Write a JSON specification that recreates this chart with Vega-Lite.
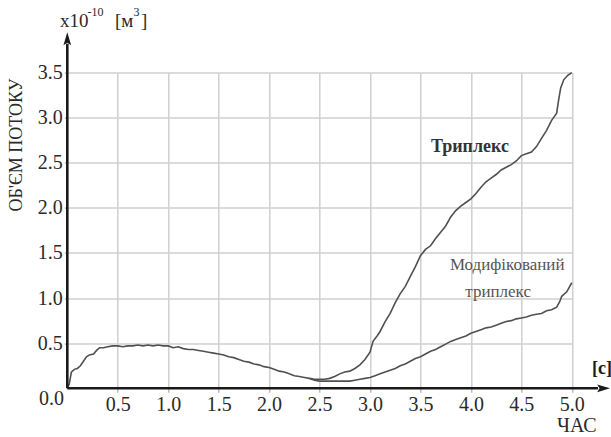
{
  "$schema": "https://vega.github.io/schema/vega-lite/v6.json",
  "width": 504.5,
  "height": 315.7,
  "autosize": {"type": "none"},
  "padding": {"left": 67.3, "top": 72.6, "right": 39, "bottom": 49},
  "background": "white",
  "config": {
    "view": {"stroke": null},
    "font": "Liberation Serif",
    "axis": {
      "labelFont": "Liberation Serif",
      "titleFont": "Liberation Serif",
      "gridColor": "#cfcfcf",
      "gridWidth": 1.5,
      "gridOpacity": 1,
      "domain": false,
      "tickColor": "#aaaaaa",
      "tickWidth": 1.2,
      "labelColor": "#2a2a2a",
      "titleColor": "#2a2a2a",
      "titleFontWeight": "normal"
    }
  },
  "datasets": {
    "curve": [
      {"t": 0.0, "v": 0.0, "s": "common"},
      {"t": 0.02, "v": 0.05, "s": "common"},
      {"t": 0.04, "v": 0.18, "s": "common"},
      {"t": 0.07, "v": 0.21, "s": "common"},
      {"t": 0.1, "v": 0.22, "s": "common"},
      {"t": 0.13, "v": 0.25, "s": "common"},
      {"t": 0.16, "v": 0.3, "s": "common"},
      {"t": 0.19, "v": 0.35, "s": "common"},
      {"t": 0.22, "v": 0.37, "s": "common"},
      {"t": 0.26, "v": 0.38, "s": "common"},
      {"t": 0.29, "v": 0.42, "s": "common"},
      {"t": 0.32, "v": 0.45, "s": "common"},
      {"t": 0.36, "v": 0.45, "s": "common"},
      {"t": 0.4, "v": 0.46, "s": "common"},
      {"t": 0.45, "v": 0.47, "s": "common"},
      {"t": 0.5, "v": 0.47, "s": "common"},
      {"t": 0.55, "v": 0.46, "s": "common"},
      {"t": 0.6, "v": 0.47, "s": "common"},
      {"t": 0.65, "v": 0.47, "s": "common"},
      {"t": 0.7, "v": 0.48, "s": "common"},
      {"t": 0.75, "v": 0.47, "s": "common"},
      {"t": 0.8, "v": 0.48, "s": "common"},
      {"t": 0.85, "v": 0.47, "s": "common"},
      {"t": 0.9, "v": 0.48, "s": "common"},
      {"t": 0.95, "v": 0.47, "s": "common"},
      {"t": 1.0, "v": 0.47, "s": "common"},
      {"t": 1.05, "v": 0.45, "s": "common"},
      {"t": 1.1, "v": 0.46, "s": "common"},
      {"t": 1.15, "v": 0.44, "s": "common"},
      {"t": 1.2, "v": 0.43, "s": "common"},
      {"t": 1.25, "v": 0.43, "s": "common"},
      {"t": 1.3, "v": 0.42, "s": "common"},
      {"t": 1.35, "v": 0.41, "s": "common"},
      {"t": 1.4, "v": 0.4, "s": "common"},
      {"t": 1.45, "v": 0.39, "s": "common"},
      {"t": 1.5, "v": 0.38, "s": "common"},
      {"t": 1.55, "v": 0.37, "s": "common"},
      {"t": 1.6, "v": 0.35, "s": "common"},
      {"t": 1.65, "v": 0.34, "s": "common"},
      {"t": 1.7, "v": 0.32, "s": "common"},
      {"t": 1.75, "v": 0.3, "s": "common"},
      {"t": 1.8, "v": 0.29, "s": "common"},
      {"t": 1.85, "v": 0.27, "s": "common"},
      {"t": 1.9, "v": 0.26, "s": "common"},
      {"t": 1.95, "v": 0.24, "s": "common"},
      {"t": 2.0, "v": 0.23, "s": "common"},
      {"t": 2.05, "v": 0.21, "s": "common"},
      {"t": 2.1, "v": 0.19, "s": "common"},
      {"t": 2.15, "v": 0.18, "s": "common"},
      {"t": 2.2, "v": 0.16, "s": "common"},
      {"t": 2.25, "v": 0.14, "s": "common"},
      {"t": 2.3, "v": 0.13, "s": "common"},
      {"t": 2.35, "v": 0.12, "s": "common"},
      {"t": 2.4, "v": 0.11, "s": "common"},
      {"t": 2.4, "v": 0.11, "s": "triplex"},
      {"t": 2.45, "v": 0.1, "s": "triplex"},
      {"t": 2.5, "v": 0.1, "s": "triplex"},
      {"t": 2.55, "v": 0.1, "s": "triplex"},
      {"t": 2.6, "v": 0.11, "s": "triplex"},
      {"t": 2.65, "v": 0.13, "s": "triplex"},
      {"t": 2.7, "v": 0.16, "s": "triplex"},
      {"t": 2.75, "v": 0.18, "s": "triplex"},
      {"t": 2.8, "v": 0.19, "s": "triplex"},
      {"t": 2.85, "v": 0.22, "s": "triplex"},
      {"t": 2.9, "v": 0.26, "s": "triplex"},
      {"t": 2.95, "v": 0.32, "s": "triplex"},
      {"t": 3.0, "v": 0.4, "s": "triplex"},
      {"t": 3.03, "v": 0.52, "s": "triplex"},
      {"t": 3.07, "v": 0.58, "s": "triplex"},
      {"t": 3.1, "v": 0.63, "s": "triplex"},
      {"t": 3.15, "v": 0.74, "s": "triplex"},
      {"t": 3.2, "v": 0.83, "s": "triplex"},
      {"t": 3.25, "v": 0.95, "s": "triplex"},
      {"t": 3.3, "v": 1.05, "s": "triplex"},
      {"t": 3.35, "v": 1.13, "s": "triplex"},
      {"t": 3.4, "v": 1.24, "s": "triplex"},
      {"t": 3.45, "v": 1.35, "s": "triplex"},
      {"t": 3.5, "v": 1.47, "s": "triplex"},
      {"t": 3.55, "v": 1.54, "s": "triplex"},
      {"t": 3.6, "v": 1.58, "s": "triplex"},
      {"t": 3.65, "v": 1.66, "s": "triplex"},
      {"t": 3.7, "v": 1.73, "s": "triplex"},
      {"t": 3.75, "v": 1.8, "s": "triplex"},
      {"t": 3.8, "v": 1.9, "s": "triplex"},
      {"t": 3.85, "v": 1.97, "s": "triplex"},
      {"t": 3.9, "v": 2.02, "s": "triplex"},
      {"t": 3.95, "v": 2.06, "s": "triplex"},
      {"t": 4.0, "v": 2.1, "s": "triplex"},
      {"t": 4.05, "v": 2.16, "s": "triplex"},
      {"t": 4.1, "v": 2.23, "s": "triplex"},
      {"t": 4.15, "v": 2.29, "s": "triplex"},
      {"t": 4.2, "v": 2.33, "s": "triplex"},
      {"t": 4.25, "v": 2.37, "s": "triplex"},
      {"t": 4.3, "v": 2.42, "s": "triplex"},
      {"t": 4.35, "v": 2.45, "s": "triplex"},
      {"t": 4.4, "v": 2.48, "s": "triplex"},
      {"t": 4.45, "v": 2.52, "s": "triplex"},
      {"t": 4.5, "v": 2.58, "s": "triplex"},
      {"t": 4.55, "v": 2.6, "s": "triplex"},
      {"t": 4.6, "v": 2.62, "s": "triplex"},
      {"t": 4.65, "v": 2.68, "s": "triplex"},
      {"t": 4.7, "v": 2.77, "s": "triplex"},
      {"t": 4.75, "v": 2.86, "s": "triplex"},
      {"t": 4.8, "v": 2.97, "s": "triplex"},
      {"t": 4.85, "v": 3.05, "s": "triplex"},
      {"t": 4.87, "v": 3.2, "s": "triplex"},
      {"t": 4.89, "v": 3.33, "s": "triplex"},
      {"t": 4.92, "v": 3.42, "s": "triplex"},
      {"t": 4.96, "v": 3.47, "s": "triplex"},
      {"t": 5.0, "v": 3.5, "s": "triplex"},
      {"t": 2.4, "v": 0.11, "s": "modified"},
      {"t": 2.45, "v": 0.09, "s": "modified"},
      {"t": 2.5, "v": 0.08, "s": "modified"},
      {"t": 2.6, "v": 0.08, "s": "modified"},
      {"t": 2.7, "v": 0.08, "s": "modified"},
      {"t": 2.8, "v": 0.08, "s": "modified"},
      {"t": 2.85, "v": 0.09, "s": "modified"},
      {"t": 2.9, "v": 0.1, "s": "modified"},
      {"t": 2.95, "v": 0.11, "s": "modified"},
      {"t": 3.0, "v": 0.12, "s": "modified"},
      {"t": 3.05, "v": 0.14, "s": "modified"},
      {"t": 3.1, "v": 0.16, "s": "modified"},
      {"t": 3.15, "v": 0.18, "s": "modified"},
      {"t": 3.2, "v": 0.2, "s": "modified"},
      {"t": 3.25, "v": 0.22, "s": "modified"},
      {"t": 3.3, "v": 0.25, "s": "modified"},
      {"t": 3.35, "v": 0.27, "s": "modified"},
      {"t": 3.4, "v": 0.3, "s": "modified"},
      {"t": 3.45, "v": 0.33, "s": "modified"},
      {"t": 3.5, "v": 0.35, "s": "modified"},
      {"t": 3.55, "v": 0.38, "s": "modified"},
      {"t": 3.6, "v": 0.41, "s": "modified"},
      {"t": 3.65, "v": 0.43, "s": "modified"},
      {"t": 3.7, "v": 0.46, "s": "modified"},
      {"t": 3.75, "v": 0.49, "s": "modified"},
      {"t": 3.8, "v": 0.52, "s": "modified"},
      {"t": 3.85, "v": 0.54, "s": "modified"},
      {"t": 3.9, "v": 0.56, "s": "modified"},
      {"t": 3.95, "v": 0.58, "s": "modified"},
      {"t": 4.0, "v": 0.61, "s": "modified"},
      {"t": 4.05, "v": 0.63, "s": "modified"},
      {"t": 4.1, "v": 0.65, "s": "modified"},
      {"t": 4.15, "v": 0.67, "s": "modified"},
      {"t": 4.2, "v": 0.68, "s": "modified"},
      {"t": 4.25, "v": 0.7, "s": "modified"},
      {"t": 4.3, "v": 0.72, "s": "modified"},
      {"t": 4.35, "v": 0.74, "s": "modified"},
      {"t": 4.4, "v": 0.75, "s": "modified"},
      {"t": 4.45, "v": 0.77, "s": "modified"},
      {"t": 4.5, "v": 0.78, "s": "modified"},
      {"t": 4.55, "v": 0.79, "s": "modified"},
      {"t": 4.6, "v": 0.81, "s": "modified"},
      {"t": 4.65, "v": 0.82, "s": "modified"},
      {"t": 4.7, "v": 0.83, "s": "modified"},
      {"t": 4.75, "v": 0.86, "s": "modified"},
      {"t": 4.8, "v": 0.87, "s": "modified"},
      {"t": 4.85, "v": 0.9, "s": "modified"},
      {"t": 4.88, "v": 0.96, "s": "modified"},
      {"t": 4.9, "v": 1.02, "s": "modified"},
      {"t": 4.95, "v": 1.07, "s": "modified"},
      {"t": 5.0, "v": 1.17, "s": "modified"}
    ]
  },
  "encoding": {
    "x": {
      "field": "t",
      "type": "quantitative",
      "scale": {"domain": [0, 5], "nice": false, "zero": false},
      "axis": {
        "values": [0.5, 1, 1.5, 2, 2.5, 3, 3.5, 4, 4.5, 5],
        "format": ".1f",
        "grid": true,
        "tickSize": 4,
        "labelPadding": 2,
        "labelFontSize": 20,
        "labelFlush": false,
        "title": "ЧАС",
        "titleFontSize": 20,
        "titleX": 509,
        "titleY": 37,
        "titleAlign": "center",
        "titleBaseline": "middle",
        "titleAnchor": null
      }
    },
    "y": {
      "field": "v",
      "type": "quantitative",
      "scale": {"domain": [0, 3.5], "nice": false, "zero": false},
      "axis": {
        "values": [0.5, 1, 1.5, 2, 2.5, 3, 3.5],
        "format": ".1f",
        "grid": true,
        "tickSize": 3,
        "labelPadding": 2,
        "labelFontSize": 20,
        "labelFlush": false,
        "title": "ОБ'ЄМ ПОТОКУ",
        "titleFontSize": 18,
        "titleX": -51,
        "titleY": 72,
        "titleAngle": -90,
        "titleAlign": "center",
        "titleBaseline": "middle",
        "titleAnchor": null
      }
    }
  },
  "layer": [
    {
      "data": {"name": "curve"},
      "mark": {"type": "line", "strokeWidth": 1.6, "color": "#505050"},
      "encoding": {"detail": {"field": "s", "type": "nominal"}}
    },
    {
      "data": {"values": [
        {"t": 0, "v": 0, "t2": 0, "v2": 3.82},
        {"t": 0, "v": 0, "t2": 5.26, "v2": 0}
      ]},
      "mark": {"type": "rule", "strokeWidth": 2.6, "color": "#1a1a1a"},
      "encoding": {
        "x2": {"field": "t2"},
        "y2": {"field": "v2"}
      }
    },
    {
      "data": {"values": [
        {"t": 0, "v": 3.87, "dir": "up"},
        {"t": 5.31, "v": 0, "dir": "right"}
      ]},
      "mark": {"type": "point", "filled": true, "opacity": 1, "color": "#1a1a1a", "size": 196},
      "encoding": {
        "shape": {
          "field": "dir",
          "type": "nominal",
          "scale": {"domain": ["up", "right"], "range": ["M0,-1L0.55,0.85L0,0.5L-0.55,0.85Z", "M1,0L-0.85,0.55L-0.5,0L-0.85,-0.55Z"]},
          "legend": null
        }
      }
    },
    {
      "data": {"values": [{"t": -0.156, "v": -0.124, "label": "0.0"}]},
      "mark": {"type": "text", "font": "Liberation Serif", "fontSize": 20, "color": "#2a2a2a", "align": "center", "baseline": "middle"},
      "encoding": {"text": {"field": "label"}}
    },
    {
      "data": {"values": [
        {"t": -0.072, "v": 4.006, "label": "x10"},
        {"t": 0.473, "v": 4.006, "label": "[м"},
        {"t": 0.73, "v": 4.006, "label": "]"}
      ]},
      "mark": {"type": "text", "font": "Liberation Serif", "fontSize": 19, "color": "#2a2a2a", "align": "left", "baseline": "alphabetic"},
      "encoding": {"text": {"field": "label"}}
    },
    {
      "data": {"values": [
        {"t": 0.2, "v": 4.13, "label": "-10"},
        {"t": 0.655, "v": 4.13, "label": "3"}
      ]},
      "mark": {"type": "text", "font": "Liberation Serif", "fontSize": 12, "color": "#2a2a2a", "align": "left", "baseline": "alphabetic"},
      "encoding": {"text": {"field": "label"}}
    },
    {
      "data": {"values": [{"t": 5.3, "v": 0.21, "label": "[c]"}]},
      "mark": {"type": "text", "font": "Liberation Serif", "fontSize": 18, "fontWeight": "bold", "color": "#1a1a1a", "align": "center", "baseline": "middle"},
      "encoding": {"text": {"field": "label"}}
    },
    {
      "data": {"values": [{"t": 3.99, "v": 2.675, "label": "Триплекс"}]},
      "mark": {"type": "text", "font": "Liberation Serif", "fontSize": 18, "fontWeight": "bold", "color": "#333333", "align": "center", "baseline": "middle"},
      "encoding": {"text": {"field": "label"}}
    },
    {
      "data": {"values": [
        {"t": 4.36, "v": 1.367, "label": "Модифікований"},
        {"t": 4.27, "v": 1.07, "label": "триплекс"}
      ]},
      "mark": {"type": "text", "font": "Liberation Serif", "fontSize": 17, "color": "#555555", "align": "center", "baseline": "middle"},
      "encoding": {"text": {"field": "label"}}
    }
  ]
}
